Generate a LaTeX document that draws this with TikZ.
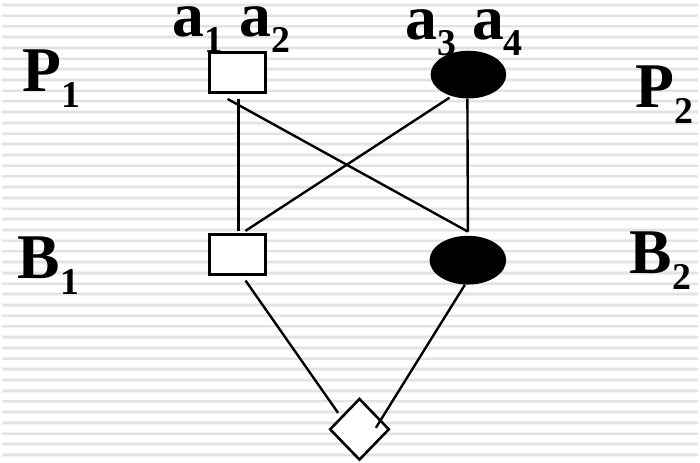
\documentclass[tikz,border=0pt]{standalone}
\usepackage{fontspec}
\setmainfont{Liberation Serif}
\usetikzlibrary{calc,shapes.geometric}
% bold letter with a lowered bold index
\newcommand\lbl[2]{\textbf{#1}\raisebox{-16pt}{\fontsize{38}{38}\selectfont\bfseries #2}}
\begin{document}
\begin{tikzpicture}[x=1pt,y=-1pt,
  txt/.style={anchor=base west, inner sep=0pt, font=\fontsize{64}{70}\selectfont\bfseries},
  sq/.style={draw, fill=white, line width=3pt, minimum width=57pt, minimum height=40pt, inner sep=0pt},
  blob/.style={ellipse, fill=black, inner sep=0pt},
  dia/.style={diamond, draw, fill=white, line width=2.6pt, minimum width=60pt, minimum height=62pt, inner sep=0pt},
  edge/.style={line width=2.4pt},
  stripehalo/.style={line width=3.6pt, black!5},
  stripecore/.style={line width=2pt, black!11}]
  % striped backdrop
  \fill[white] (0,0) rectangle (700,465);
  \foreach \i in {0,...,42}{
    \draw[stripehalo] (0,5+10.77*\i) -- (700,5+10.77*\i);
    \draw[stripecore] (0,5+10.77*\i) -- (700,5+10.77*\i);
  }
  \useasboundingbox (0,0) rectangle (700,465);

  % nodes
  \node[sq] (p1) at (237,73) {};
  \node[blob, minimum width=76pt, minimum height=48pt] (p2) at (469,75) {};
  \node[sq] (b1) at (237,255.5) {};
  \node[blob, minimum width=77pt, minimum height=49pt] (b2) at (468.5,261.5) {};
  \node[dia] (d) at (359.5,431.5) {};

  % labels
  \node[txt] (lp1) at (21,92) {\lbl{P}{1}};
  \node[txt] (lp2) at (637,108) {\lbl{P}{2}};
  \node[txt] (lb1) at (16,280) {\lbl{B}{1}};
  \node[txt] (lb2) at (631,275) {\lbl{B}{2}};
  \node[txt] (la12) at (171.5,37) {\lbl{a}{1} \lbl{a}{2}};
  \node[txt] (la34) at (405.5,40) {\lbl{a}{3} \lbl{a}{4}};

  % connectors
  \draw[edge] ($(p1.south)+(1,5)$) -- ($(b1.north)+(1,-2)$);
  \draw[edge] ($(p1.south)+(-10,5)$) -- ($(b2.north)+(0,-4)$);
  \draw[edge] ($(p2.south)+(-1,0)$) -- ($(b2.north)+(0,-4)$);
  \draw[edge] ($(p2.south)+(-19,-1)$) -- ($(b1.north)+(8,-2)$);
  \draw[edge] ($(b1.south)+(8,5)$) -- ($(d.center)+(-21.5,-16.5)$);
  \draw[edge] ($(b2.south)+(-3,0)$) -- ($(d.center)+(16.5,-1.5)$);
\end{tikzpicture}
\end{document}
